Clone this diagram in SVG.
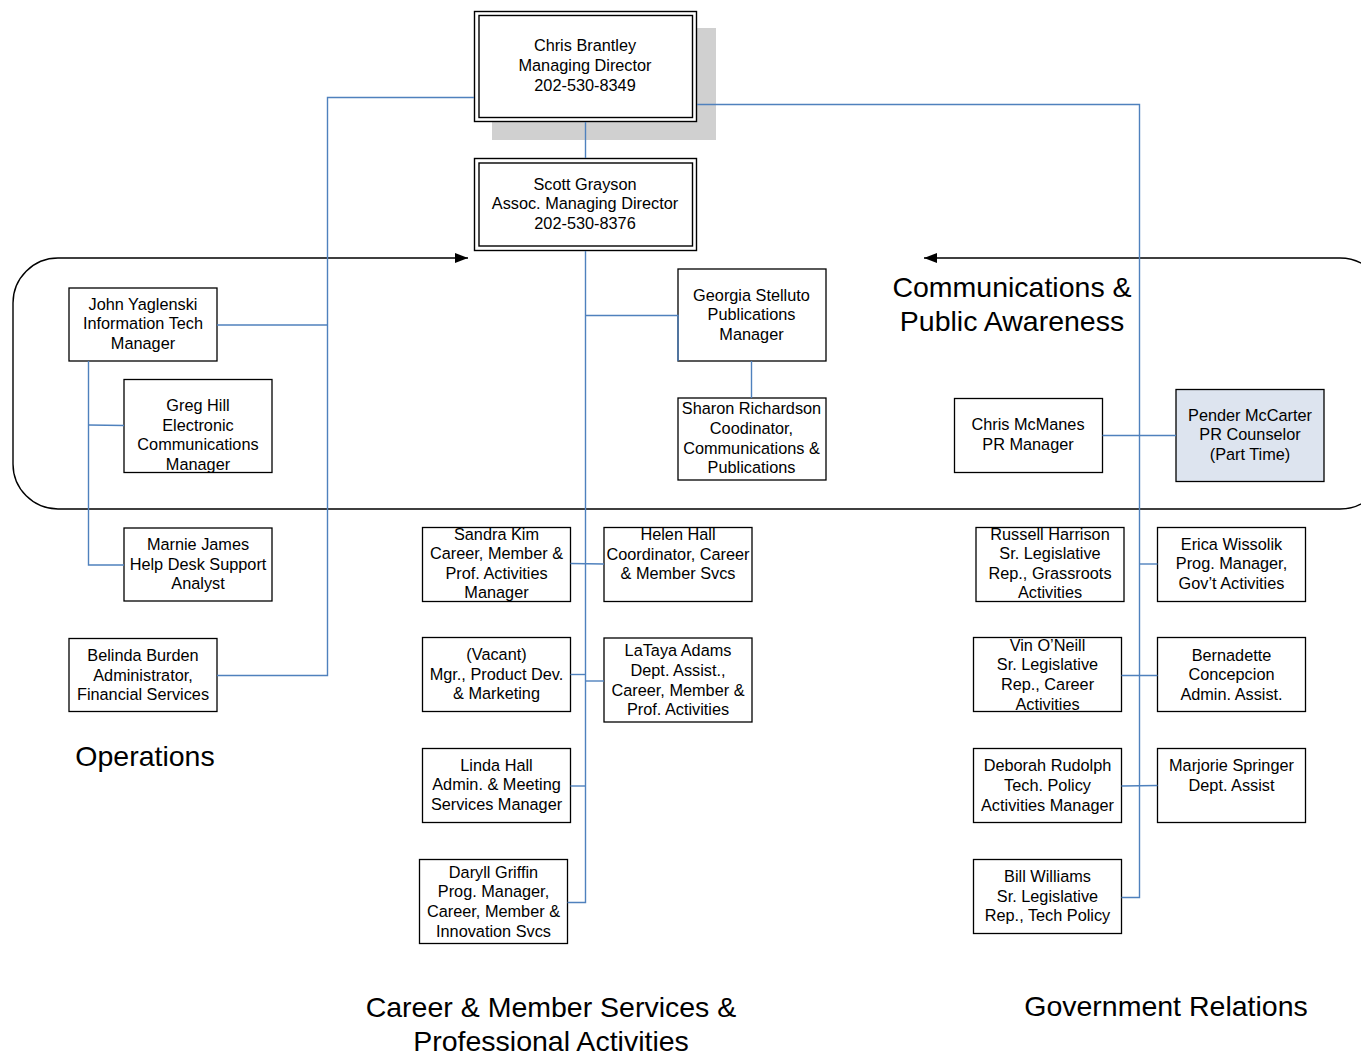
<svg xmlns="http://www.w3.org/2000/svg" width="1361" height="1055" viewBox="0 0 1361 1055">
<style>
.box{fill:#fff;stroke:#000;stroke-width:1.3}
.pr{fill:#dde4ef;stroke:#000;stroke-width:1.3}
.dbl{fill:none;stroke:#000;stroke-width:1.4}
.t{font-family:"Liberation Sans",Arial,sans-serif;font-size:16.3px;text-anchor:middle;fill:#000}
.big{font-family:"Liberation Sans",Arial,sans-serif;font-size:28.5px;text-anchor:middle;fill:#000}
.c{fill:none;stroke:#4f81bd;stroke-width:1.4}
.frame{fill:none;stroke:#000;stroke-width:1.4}
</style>
<defs>
<marker id="ah" viewBox="0 0 13 10" refX="13" refY="5" markerWidth="13" markerHeight="10" markerUnits="userSpaceOnUse" orient="auto-start-reverse">
<path d="M0,0 L13,5 L0,10 Z" fill="#000"/>
</marker>
</defs>
<rect width="1361" height="1055" fill="#fff"/>
<g id="frame">
<path class="frame" d="M924,258 L1340,258 A45,45 0 0 1 1385,303 L1385,464 A45,45 0 0 1 1340,509 L58,509 A45,45 0 0 1 13,464 L13,303 A45,45 0 0 1 58,258 L468,258" marker-start="url(#ah)" marker-end="url(#ah)"/>
</g>
<g id="labels">
<text class="big" x="145" y="766">Operations</text>
<text class="big" x="1012" y="297">Communications &amp;</text>
<text class="big" x="1012" y="331">Public Awareness</text>
<text class="big" x="551" y="1017">Career &amp; Member Services &amp;</text>
<text class="big" x="551" y="1051">Professional Activities</text>
<text class="big" x="1166" y="1016">Government Relations</text>
</g>
<g id="n-brantley">
<rect x="492" y="28" width="224" height="112" fill="#d0d0d0"/>
<rect x="474.5" y="11.5" width="222" height="110" fill="#fff" stroke="#000" stroke-width="1.4"/>
<rect class="dbl" x="479" y="15.5" width="213.5" height="102"/>
<text class="t" x="585" y="51">Chris Brantley</text>
<text class="t" x="585" y="71">Managing Director</text>
<text class="t" x="585" y="91">202-530-8349</text>
</g>
<g id="n-grayson">
<rect x="474.5" y="158.5" width="222" height="92" fill="#fff" stroke="#000" stroke-width="1.4"/>
<rect class="dbl" x="479" y="163" width="213.5" height="83"/>
<text class="t" x="585" y="190">Scott Grayson</text>
<text class="t" x="585" y="209">Assoc. Managing Director</text>
<text class="t" x="585" y="229">202-530-8376</text>
</g>
<g id="n-yaglenski">
<rect class="box" x="69" y="288" width="148" height="73"/>
<text class="t" x="143" y="310">John Yaglenski</text>
<text class="t" x="143" y="329">Information Tech</text>
<text class="t" x="143" y="349">Manager</text>
</g>
<g id="n-hill">
<rect class="box" x="124" y="379.5" width="148" height="93"/>
<text class="t" x="198" y="411">Greg Hill</text>
<text class="t" x="198" y="431">Electronic</text>
<text class="t" x="198" y="450">Communications</text>
<text class="t" x="198" y="470">Manager</text>
</g>
<g id="n-james">
<rect class="box" x="124" y="528" width="148" height="73"/>
<text class="t" x="198" y="550">Marnie James</text>
<text class="t" x="198" y="570">Help Desk Support</text>
<text class="t" x="198" y="589">Analyst</text>
</g>
<g id="n-burden">
<rect class="box" x="69" y="638.5" width="148" height="73"/>
<text class="t" x="143" y="661">Belinda Burden</text>
<text class="t" x="143" y="681">Administrator,</text>
<text class="t" x="143" y="700">Financial Services</text>
</g>
<g id="n-stelluto">
<rect class="box" x="678" y="269" width="148" height="92"/>
<text class="t" x="751.5" y="301">Georgia Stelluto</text>
<text class="t" x="751.5" y="320">Publications</text>
<text class="t" x="751.5" y="340">Manager</text>
</g>
<g id="n-richardson">
<rect class="box" x="678" y="398" width="148" height="82"/>
<text class="t" x="751.5" y="414">Sharon Richardson</text>
<text class="t" x="751.5" y="434">Coodinator,</text>
<text class="t" x="751.5" y="454">Communications &amp;</text>
<text class="t" x="751.5" y="473">Publications</text>
</g>
<g id="n-mcmanes">
<rect class="box" x="954.5" y="398.5" width="148" height="74"/>
<text class="t" x="1028" y="430">Chris McManes</text>
<text class="t" x="1028" y="450">PR Manager</text>
</g>
<g id="n-mccarter">
<rect class="pr" x="1176" y="389.5" width="148" height="92"/>
<text class="t" x="1250" y="421">Pender McCarter</text>
<text class="t" x="1250" y="440">PR Counselor</text>
<text class="t" x="1250" y="460">(Part Time)</text>
</g>
<g id="n-kim">
<rect class="box" x="422.5" y="527.5" width="148" height="74"/>
<text class="t" x="496.5" y="540">Sandra Kim</text>
<text class="t" x="496.5" y="559">Career, Member &amp;</text>
<text class="t" x="496.5" y="579">Prof. Activities</text>
<text class="t" x="496.5" y="598">Manager</text>
</g>
<g id="n-hhall">
<rect class="box" x="604" y="527.5" width="148" height="74"/>
<text class="t" x="678" y="540">Helen Hall</text>
<text class="t" x="678" y="560">Coordinator, Career</text>
<text class="t" x="678" y="579">&amp; Member Svcs</text>
</g>
<g id="n-vacant">
<rect class="box" x="422.5" y="637.5" width="148" height="74"/>
<text class="t" x="496.5" y="660">(Vacant)</text>
<text class="t" x="496.5" y="680">Mgr., Product Dev.</text>
<text class="t" x="496.5" y="699">&amp; Marketing</text>
</g>
<g id="n-adams">
<rect class="box" x="604" y="638" width="148" height="84"/>
<text class="t" x="678" y="656">LaTaya Adams</text>
<text class="t" x="678" y="676">Dept. Assist.,</text>
<text class="t" x="678" y="696">Career, Member &amp;</text>
<text class="t" x="678" y="715">Prof. Activities</text>
</g>
<g id="n-lhall">
<rect class="box" x="422.5" y="748.5" width="148" height="74"/>
<text class="t" x="496.5" y="771">Linda Hall</text>
<text class="t" x="496.5" y="790">Admin. &amp; Meeting</text>
<text class="t" x="496.5" y="810">Services Manager</text>
</g>
<g id="n-griffin">
<rect class="box" x="419.5" y="859.5" width="148" height="84"/>
<text class="t" x="493.5" y="878">Daryll Griffin</text>
<text class="t" x="493.5" y="897">Prog. Manager,</text>
<text class="t" x="493.5" y="917">Career, Member &amp;</text>
<text class="t" x="493.5" y="937">Innovation Svcs</text>
</g>
<g id="n-harrison">
<rect class="box" x="976" y="527.5" width="148" height="74"/>
<text class="t" x="1050" y="540">Russell Harrison</text>
<text class="t" x="1050" y="559">Sr. Legislative</text>
<text class="t" x="1050" y="579">Rep., Grassroots</text>
<text class="t" x="1050" y="598">Activities</text>
</g>
<g id="n-wissolik">
<rect class="box" x="1157.5" y="527.5" width="148" height="74"/>
<text class="t" x="1231.5" y="550">Erica Wissolik</text>
<text class="t" x="1231.5" y="569">Prog. Manager,</text>
<text class="t" x="1231.5" y="589">Gov’t Activities</text>
</g>
<g id="n-oneill">
<rect class="box" x="973.5" y="637.5" width="148" height="74"/>
<text class="t" x="1047.5" y="651">Vin O’Neill</text>
<text class="t" x="1047.5" y="670">Sr. Legislative</text>
<text class="t" x="1047.5" y="690">Rep., Career</text>
<text class="t" x="1047.5" y="710">Activities</text>
</g>
<g id="n-concepcion">
<rect class="box" x="1157.5" y="637.5" width="148" height="74"/>
<text class="t" x="1231.5" y="661">Bernadette</text>
<text class="t" x="1231.5" y="680">Concepcion</text>
<text class="t" x="1231.5" y="700">Admin. Assist.</text>
</g>
<g id="n-rudolph">
<rect class="box" x="973.5" y="748.5" width="148" height="74"/>
<text class="t" x="1047.5" y="771">Deborah Rudolph</text>
<text class="t" x="1047.5" y="791">Tech. Policy</text>
<text class="t" x="1047.5" y="811">Activities Manager</text>
</g>
<g id="n-springer">
<rect class="box" x="1157.5" y="748.5" width="148" height="74"/>
<text class="t" x="1231.5" y="771">Marjorie Springer</text>
<text class="t" x="1231.5" y="791">Dept. Assist</text>
</g>
<g id="n-williams">
<rect class="box" x="973.5" y="859.5" width="148" height="74"/>
<text class="t" x="1047.5" y="882">Bill Williams</text>
<text class="t" x="1047.5" y="902">Sr. Legislative</text>
<text class="t" x="1047.5" y="921">Rep., Tech Policy</text>
</g>
<g id="connectors">
<path class="c" d="M585.5,122 L585.5,158"/>
<path class="c" d="M474,97.5 L327.5,97.5 L327.5,675.5 L217,675.5"/>
<path class="c" d="M217,325 L327.5,325"/>
<path class="c" d="M88.5,361 L88.5,565 L124,565"/>
<path class="c" d="M88.5,425 L124,425.5"/>
<path class="c" d="M697,104.5 L1139.5,104.5 L1139.5,897.5 L1121.5,897.5"/>
<path class="c" d="M1102.5,435.5 L1176,435.5"/>
<path class="c" d="M1139.5,564 L1157.5,564"/>
<path class="c" d="M1121.5,675.5 L1157.5,675.5"/>
<path class="c" d="M1121.5,786 L1157.5,785.5"/>
<path class="c" d="M585.5,251 L585.5,902.5 L567.5,902.5"/>
<path class="c" d="M585.5,315.5 L678,315.5 L678,361"/>
<path class="c" d="M751.5,361 L751.5,398"/>
<path class="c" d="M570.5,563.5 L604,564"/>
<path class="c" d="M570.5,674.5 L585.5,674.5"/>
<path class="c" d="M585.5,681 L604,681"/>
<path class="c" d="M570.5,786 L585.5,786"/>
</g>
</svg>
